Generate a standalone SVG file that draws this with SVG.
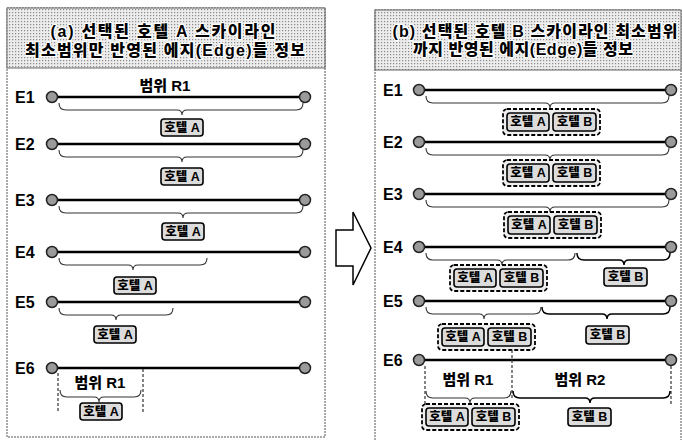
<svg xmlns="http://www.w3.org/2000/svg" width="682" height="440" viewBox="0 0 682 440">
<defs>
<pattern id="dots" width="3" height="3" patternUnits="userSpaceOnUse"><rect width="3" height="3" fill="#ececec"/><rect width="1.2" height="1.2" fill="#8a8a8a"/></pattern>
</defs>
<style>
.t{font-family:"Liberation Sans","Noto Sans CJK KR",sans-serif;font-weight:bold;fill:#000}
.hd{font-size:16px;font-weight:900;text-anchor:middle;stroke:#fff;stroke-width:2.5;paint-order:stroke;stroke-linejoin:round}
.lbl{font-size:16px}
.rng{font-size:15px;font-weight:900;text-anchor:middle}
.hb{font-size:12.5px;font-weight:900;text-anchor:middle}
.panel{fill:#fff;stroke:#555;stroke-width:1;stroke-dasharray:2 1}
.head{fill:url(#dots);stroke:#666;stroke-width:1}
.edge{stroke:#000;stroke-width:2.5}
.dot{fill:#9a9a9a;stroke:#222;stroke-width:1.5}
.brace{fill:none;stroke:#333;stroke-width:1.1}
.braceB{fill:none;stroke:#000;stroke-width:1.5}
.box{fill:#dcdcdc;stroke:#000;stroke-width:1.6}
.grp{fill:#eeeeee;stroke:#000;stroke-width:1.8;stroke-dasharray:4 2}
.vd{stroke:#333;stroke-width:1.2;stroke-dasharray:3 2}
.arrow{fill:#fff;stroke:#000;stroke-width:1.5}
</style>

<!-- Panel (a) -->
<g id="panel-a">
<rect class="panel" x="7" y="8" width="318" height="429"/>
<rect class="head" x="7" y="8" width="318" height="60"/>
<text class="t hd" x="163" y="37" textLength="225" lengthAdjust="spacing">(a) 선택된 호텔 A  스카이라인</text>
<text class="t hd" x="165" y="56" textLength="280" lengthAdjust="spacing">최소범위만 반영된 에지(Edge)들 정보</text>
</g>

<g id="a-E1">
<text class="t lbl" x="15" y="103">E1</text>
<line class="edge" x1="52" y1="97" x2="305" y2="97"/>
<circle class="dot" cx="52" cy="97" r="5.5"/><circle class="dot" cx="305" cy="97" r="5.5"/>
<text class="t rng" x="165" y="91">범위 R1</text>
<path class="brace" d="M59,103 q0,7 7,7 H177 q5,0 5,5 q0,-5 5,-5 H296 q7,0 7,-7"/>
<rect class="box" x="161" y="119" width="42" height="17" rx="3"/><text class="t hb" x="182" y="132">호텔 A</text>
</g>

<g id="a-E2">
<text class="t lbl" x="15" y="150">E2</text>
<line class="edge" x1="52" y1="144" x2="305" y2="144"/>
<circle class="dot" cx="52" cy="144" r="5.5"/><circle class="dot" cx="305" cy="144" r="5.5"/>
<path class="brace" d="M59,150 q0,7 7,7 H177 q5,0 5,5 q0,-5 5,-5 H296 q7,0 7,-7"/>
<rect class="box" x="161" y="168" width="42" height="17" rx="3"/><text class="t hb" x="182" y="181">호텔 A</text>
</g>

<g id="a-E3">
<text class="t lbl" x="15" y="206">E3</text>
<line class="edge" x1="52" y1="200" x2="305" y2="200"/>
<circle class="dot" cx="52" cy="200" r="5.5"/><circle class="dot" cx="305" cy="200" r="5.5"/>
<path class="brace" d="M59,206 q0,7 7,7 H178 q5,0 5,5 q0,-5 5,-5 H296 q7,0 7,-7"/>
<rect class="box" x="162" y="223" width="42" height="17" rx="3"/><text class="t hb" x="183" y="236">호텔 A</text>
</g>

<g id="a-E4">
<text class="t lbl" x="15" y="258">E4</text>
<line class="edge" x1="52" y1="252" x2="305" y2="252"/>
<circle class="dot" cx="52" cy="252" r="5.5"/><circle class="dot" cx="305" cy="252" r="5.5"/>
<path class="brace" d="M59,258 q0,7 7,7 H128 q5,0 5,5 q0,-5 5,-5 H200 q7,0 7,-7"/>
<rect class="box" x="114" y="277" width="42" height="17" rx="3"/><text class="t hb" x="135" y="290">호텔 A</text>
</g>

<g id="a-E5">
<text class="t lbl" x="15" y="308">E5</text>
<line class="edge" x1="52" y1="302" x2="305" y2="302"/>
<circle class="dot" cx="52" cy="302" r="5.5"/><circle class="dot" cx="305" cy="302" r="5.5"/>
<path class="brace" d="M59,308 q0,7 7,7 H111 q5,0 5,5 q0,-5 5,-5 H166 q7,0 7,-7"/>
<rect class="box" x="94" y="326" width="42" height="17" rx="3"/><text class="t hb" x="115" y="339">호텔 A</text>
</g>

<g id="a-E6">
<text class="t lbl" x="15" y="374">E6</text>
<line class="edge" x1="52" y1="368" x2="305" y2="368"/>
<line class="vd" x1="58" y1="373" x2="58" y2="412"/>
<line class="vd" x1="143" y1="369" x2="143" y2="412"/>
<circle class="dot" cx="52" cy="368" r="5.5"/><circle class="dot" cx="305" cy="368" r="5.5"/>
<text class="t rng" x="100" y="388">범위 R1</text>
<path class="brace" d="M60,390 q0,7 7,7 H94 q5,0 5,5 q0,-5 5,-5 H134 q7,0 7,-7"/>
<rect class="box" x="80" y="403" width="42" height="17" rx="3"/><text class="t hb" x="101" y="416">호텔 A</text>
</g>

<!-- Panel (b) -->
<g id="panel-b">
<rect class="panel" x="375" y="10" width="306" height="440"/>
<rect class="head" x="375" y="10" width="306" height="60"/>
<text class="t hd" x="535" y="37" textLength="285" lengthAdjust="spacing">(b) 선택된 호텔 B 스카이라인 최소범위</text>
<text class="t hd" x="523" y="55" textLength="220" lengthAdjust="spacing">까지 반영된 에지(Edge)들 정보</text>
</g>

<g id="b-E1">
<text class="t lbl" x="383" y="96">E1</text>
<line class="edge" x1="419" y1="90" x2="671" y2="90"/>
<circle class="dot" cx="419" cy="90" r="5.5"/><circle class="dot" cx="671" cy="90" r="5.5"/>
<path class="brace" d="M426,96 q0,7 7,7 H545 q5,0 5,5 q0,-5 5,-5 H662 q7,0 7,-7"/>
<rect class="grp" x="503" y="109" width="97" height="26" rx="4"/>
<rect class="box" x="507" y="113" width="42" height="18" rx="3"/><text class="t hb" x="528" y="126">호텔 A</text>
<rect class="box" x="553" y="113" width="43" height="18" rx="3"/><text class="t hb" x="574.5" y="126">호텔 B</text>
</g>

<g id="b-E2">
<text class="t lbl" x="383" y="148">E2</text>
<line class="edge" x1="419" y1="142" x2="671" y2="142"/>
<circle class="dot" cx="419" cy="142" r="5.5"/><circle class="dot" cx="671" cy="142" r="5.5"/>
<path class="brace" d="M426,148 q0,7 7,7 H545 q5,0 5,5 q0,-5 5,-5 H662 q7,0 7,-7"/>
<rect class="grp" x="503" y="160" width="97" height="26" rx="4"/>
<rect class="box" x="507" y="164" width="42" height="18" rx="3"/><text class="t hb" x="528" y="177">호텔 A</text>
<rect class="box" x="553" y="164" width="43" height="18" rx="3"/><text class="t hb" x="574.5" y="177">호텔 B</text>
</g>

<g id="b-E3">
<text class="t lbl" x="383" y="200">E3</text>
<line class="edge" x1="419" y1="194" x2="671" y2="194"/>
<circle class="dot" cx="419" cy="194" r="5.5"/><circle class="dot" cx="671" cy="194" r="5.5"/>
<path class="brace" d="M426,200 q0,7 7,7 H545 q5,0 5,5 q0,-5 5,-5 H662 q7,0 7,-7"/>
<rect class="grp" x="504" y="212" width="97" height="26" rx="4"/>
<rect class="box" x="508" y="216" width="42" height="18" rx="3"/><text class="t hb" x="529" y="229">호텔 A</text>
<rect class="box" x="554" y="216" width="43" height="18" rx="3"/><text class="t hb" x="575.5" y="229">호텔 B</text>
</g>

<g id="b-E4">
<text class="t lbl" x="383" y="253">E4</text>
<line class="edge" x1="419" y1="247" x2="671" y2="247"/>
<circle class="dot" cx="419" cy="247" r="5.5"/><circle class="dot" cx="671" cy="247" r="5.5"/>
<path class="brace" d="M426,253 q0,7 7,7 H497 q5,0 5,5 q0,-5 5,-5 H568 q7,0 7,-7"/>
<path class="braceB" d="M577,253 q0,7 7,7 H619 q5,0 5,5 q0,-5 5,-5 H663 q7,0 7,-7"/>
<rect class="grp" x="450" y="265" width="97" height="26" rx="4"/>
<rect class="box" x="454" y="269" width="42" height="18" rx="3"/><text class="t hb" x="475" y="282">호텔 A</text>
<rect class="box" x="500" y="269" width="43" height="18" rx="3"/><text class="t hb" x="521.5" y="282">호텔 B</text>
<rect class="box" x="604" y="268" width="43" height="18" rx="3"/><text class="t hb" x="625.5" y="281">호텔 B</text>
</g>

<g id="b-E5">
<text class="t lbl" x="383" y="307">E5</text>
<line class="edge" x1="419" y1="301" x2="671" y2="301"/>
<circle class="dot" cx="419" cy="301" r="5.5"/><circle class="dot" cx="671" cy="301" r="5.5"/>
<path class="brace" d="M426,307 q0,7 7,7 H479 q5,0 5,5 q0,-5 5,-5 H534 q7,0 7,-7"/>
<path class="braceB" d="M542,307 q0,7 7,7 H602 q5,0 5,5 q0,-5 5,-5 H663 q7,0 7,-7"/>
<rect class="grp" x="438" y="324" width="97" height="26" rx="4"/>
<rect class="box" x="442" y="328" width="42" height="18" rx="3"/><text class="t hb" x="463" y="341">호텔 A</text>
<rect class="box" x="488" y="328" width="43" height="18" rx="3"/><text class="t hb" x="509.5" y="341">호텔 B</text>
<rect class="box" x="586" y="326" width="43" height="18" rx="3"/><text class="t hb" x="607.5" y="339">호텔 B</text>
</g>

<g id="b-E6">
<text class="t lbl" x="383" y="366">E6</text>
<line class="edge" x1="419" y1="360" x2="671" y2="360"/>
<line class="vd" x1="425" y1="366" x2="425" y2="406"/>
<line class="vd" x1="512" y1="350" x2="512" y2="400"/>
<line class="vd" x1="671" y1="366" x2="671" y2="406"/>
<circle class="dot" cx="419" cy="360" r="5.5"/><circle class="dot" cx="671" cy="360" r="5.5"/>
<text class="t rng" x="468" y="385">범위 R1</text>
<text class="t rng" x="580" y="385">범위 R2</text>
<path class="brace" d="M426,391 q0,7 7,7 H465 q5,0 5,5 q0,-5 5,-5 H504 q7,0 7,-7"/>
<path class="braceB" d="M513,391 q0,7 7,7 H585 q5,0 5,5 q0,-5 5,-5 H663 q7,0 7,-7"/>
<rect class="grp" x="422" y="404" width="97" height="26" rx="4"/>
<rect class="box" x="426" y="408" width="42" height="18" rx="3"/><text class="t hb" x="447" y="421">호텔 A</text>
<rect class="box" x="472" y="408" width="43" height="18" rx="3"/><text class="t hb" x="493.5" y="421">호텔 B</text>
<rect class="box" x="568" y="408" width="43" height="18" rx="3"/><text class="t hb" x="589.5" y="421">호텔 B</text>
</g>

<g id="connectors">
<polygon class="arrow" points="336,230 353,230 353,212 371,248 353,285 353,266 336,266"/>
</g>
</svg>
